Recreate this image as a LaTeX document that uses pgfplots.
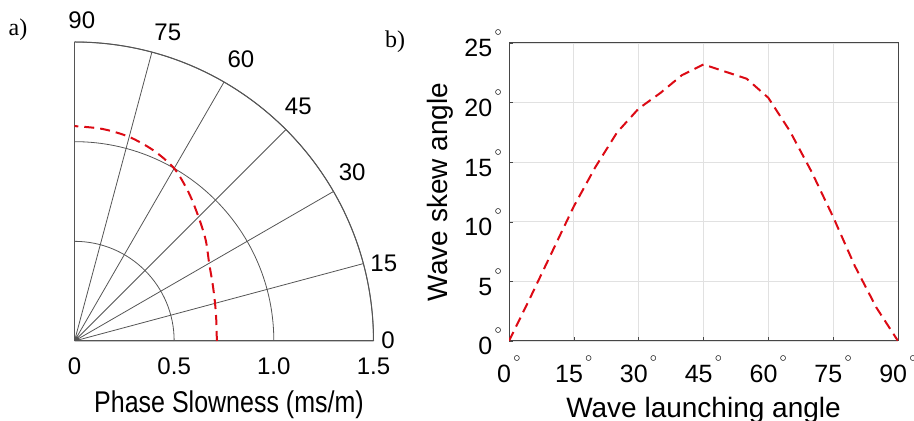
\documentclass[border=0pt]{standalone}
\usepackage{pgfplots}
\pgfplotsset{compat=1.18}
\usepgfplotslibrary{polar}
\usepackage{fontspec}
\setmainfont{Liberation Sans}
\newfontfamily\seriffont{Liberation Serif}

\definecolor{gridgray}{RGB}{85,85,85}
\definecolor{lightgrid}{RGB}{225,225,225}
\definecolor{boxgray}{RGB}{70,70,70}
\definecolor{curvered}{RGB}{220,10,20}

\newcommand{\degsym}{\hspace{1pt}\raisebox{10.5pt}{$\scriptscriptstyle\circ$}}

\begin{document}
\begin{tikzpicture}[font=\fontsize{12}{14}\selectfont]
\path[use as bounding box] (-37.25pt,-40pt) rectangle (419.75pt,170.5pt);

% a) phase slowness, polar
\begin{polaraxis}[
    at={(0,0)}, anchor=origin,
    scale only axis,
    width=299pt, height=299pt,
    xmin=0, xmax=90,
    ymin=0, ymax=1.5,
    xtick={0,15,...,90},
    ytick={0,0.5,1.0,1.5},
    yticklabels={0,0.5,1.0,1.5},
    xticklabels={},
    yticklabel style={anchor=north, yshift=-5pt},
    /pgf/number format/assume math mode=true,
    grid=both,
    major grid style={gridgray, line width=0.4pt},
    axis line style={gridgray, line width=0.5pt},
    tick style={draw=none},
    clip=false,
]
\addplot[curvered, dash pattern=on 5pt off 3pt, line width=1pt, smooth] coordinates {
  (0,0.714) (7.5,0.718) (15,0.73) (22.5,0.75) (30,0.78) (37.5,0.83)
  (45,0.88) (52.5,0.94) (60,1.0) (67.5,1.035) (75,1.06) (82.5,1.073) (90,1.078)
};
% angle labels
\node at (axis cs:88.7,1.61) {90};
\node at (axis cs:73.2,1.62) {75};
\node at (axis cs:59.4,1.64) {60};
\node at (axis cs:46.3,1.625) {45};
\node at (axis cs:31.3,1.63) {30};
\node at (axis cs:14.1,1.60) {15};
\node at (axis cs:0.2,1.573) {0};
\end{polaraxis}
\node[anchor=base, inner sep=0pt] at (77.25pt,-36pt) {\scalebox{1}[1.2]{\fontsize{12.5}{14}\selectfont Phase Slowness (ms/m)}};
\node[font=\seriffont\fontsize{12}{14}\selectfont] at (-28.25pt,155.5pt) {a)};
\node[font=\seriffont\fontsize{12}{14}\selectfont] at (160.25pt,149.5pt) {b)};

% b) skew angle
\begin{axis}[
    at={(217.25pt,0)}, anchor=south west,
    scale only axis,
    width=194.5pt, height=149pt,
    xmin=0, xmax=90,
    ymin=0, ymax=25,
    xtick={0,15,...,90},
    ytick={0,5,...,25},
    xticklabel={\pgfmathprintnumber{\tick}\degsym},
    yticklabel={\pgfmathprintnumber{\tick}\degsym},
    xticklabel style={font=\fontsize{12.5}{14}\selectfont, anchor=base, yshift=-21pt},
    yticklabel style={font=\fontsize{12.5}{14}\selectfont, anchor=base east, yshift=-7pt},
    /pgf/number format/assume math mode=true,
    xlabel={Wave launching angle},
    ylabel={Wave skew angle},
    xlabel style={font=\fontsize{14}{16}\selectfont, at={(axis description cs:0.5,0)}, anchor=north, yshift=-28pt, inner sep=0pt},
    ylabel style={font=\fontsize{14}{16}\selectfont, at={([xshift=-30.75pt]axis description cs:0,0.5)}, anchor=base, inner sep=0pt},
    grid=major,
    major grid style={lightgrid, line width=0.4pt},
    axis line style={boxgray, line width=0.5pt},
    tick align=inside,
    major tick length=2pt,
    tick style={boxgray},
    xtick pos=bottom, ytick pos=left,
]
\addplot[curvered, dash pattern=on 5pt off 3pt, line width=1pt] coordinates {
  (0,0) (5,3.7) (10,7.5) (15,11.3) (20,14.6) (25,17.5) (30,19.5)
  (35,20.8) (40,22.3) (45,23.2) (50,22.6) (55,22.0) (60,20.4)
  (65,17.6) (70,14.2) (75,10.4) (80,6.3) (85,2.8) (90,0)
};
\end{axis}
\end{tikzpicture}
\end{document}
